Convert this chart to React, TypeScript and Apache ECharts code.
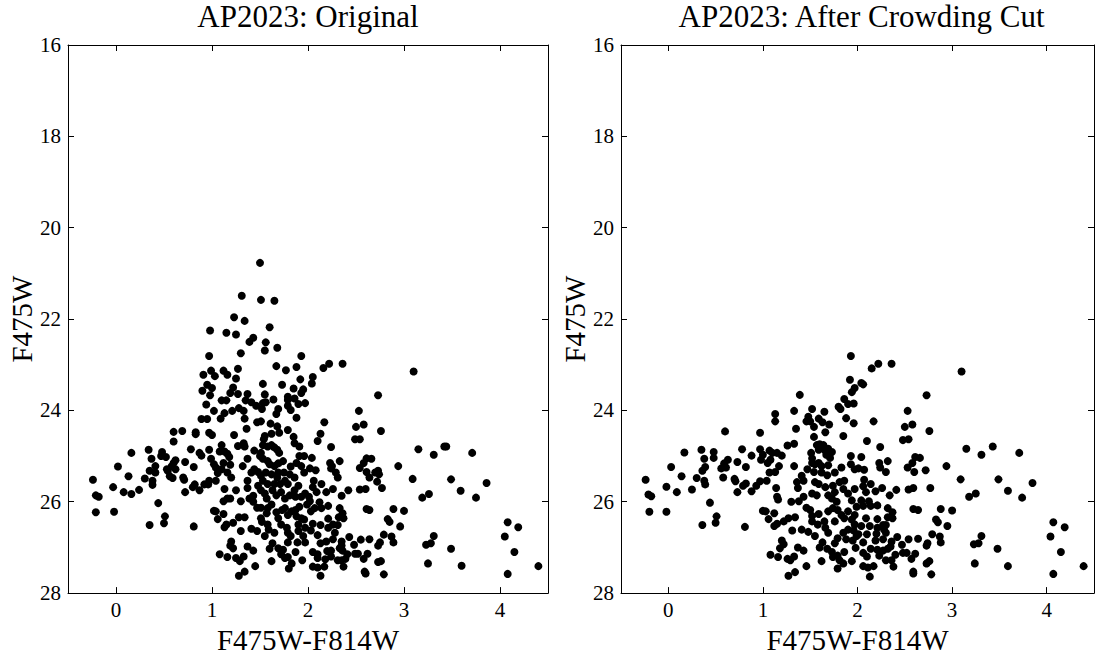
import React, { useEffect, useRef } from "react";
import * as echarts from "echarts";

// Stars (original catalogue): [F475W-F814W, F475W]
const originalStars: number[][] = [
  [1.50,20.77],[1.31,21.49],[1.51,21.58],[1.65,21.60],[1.23,21.96],[1.34,22.04],[0.98,22.25],[1.15,22.30],[1.25,22.34],[1.60,22.18],
  [1.43,22.41],[1.39,22.50],[1.56,22.51],[1.55,22.69],[1.68,22.63],[1.30,22.75],[0.97,22.81],[1.93,22.81],[1.67,23.03],[1.77,23.12],
  [1.88,23.05],[1.92,23.32],[0.91,23.22],[0.99,23.13],[1.03,23.25],[1.12,23.13],[1.16,23.22],[1.27,23.09],[1.25,23.30],[0.95,23.44],
  [1.00,23.51],[0.90,23.57],[0.98,23.67],[1.22,23.50],[1.19,23.62],[1.27,23.64],[1.37,23.64],[1.53,23.42],[1.55,23.65],[1.73,23.44],
  [1.85,23.52],[1.95,23.54],[1.93,23.62],[1.64,23.76],[1.79,23.70],[1.79,23.77],[1.86,23.74],[1.97,23.84],[1.90,23.86],[1.79,23.90],
  [1.82,23.99],[0.94,23.87],[1.10,23.78],[1.15,23.78],[1.35,23.78],[1.41,23.82],[1.46,23.90],[1.53,23.84],[1.56,23.82],[1.52,23.97],
  [1.02,24.01],[1.13,24.06],[1.21,24.01],[1.28,23.95],[1.33,24.01],[1.69,23.97],[1.67,24.08],[1.88,24.16],[0.89,24.19],[0.95,24.19],
  [1.09,24.18],[1.34,24.18],
  [2.16,23.07],[2.22,22.98],[2.36,22.98],[3.10,23.15],[2.05,23.27],[2.04,23.41],[2.73,23.67],[2.53,24.01],
  [-0.24,25.52],[-0.21,25.86],[-0.18,25.89],[-0.21,26.23],[-0.02,26.22],[-0.03,25.68],[0.02,25.23],[0.13,25.44],[0.08,25.79],[0.16,25.83],
  [0.24,25.74],[0.16,24.93],[0.34,24.86],[0.30,25.49],[0.35,25.32],[0.41,25.36],[0.37,25.06],[0.41,25.22],[0.38,25.54],[0.38,25.63],
  [0.44,26.03],[0.35,26.51],[0.48,24.91],[0.52,25.02],[0.47,25.00],[0.53,25.29],[0.54,25.32],[0.56,25.44],[0.59,25.48],[0.58,25.22],
  [0.60,25.15],[0.62,25.09],[0.62,25.29],[0.60,24.68],[0.60,24.47],[0.69,24.45],[0.51,26.32],[0.50,26.47],[0.72,25.13],[0.70,25.47],
  [0.71,25.52],[0.72,25.79],[0.78,24.85],[0.81,25.24],[0.83,24.48],[0.83,24.52],[0.87,24.93],[0.89,24.99],[0.82,25.62],[0.80,25.68],
  [0.87,25.75],[0.81,26.54],[0.92,25.62],[0.96,25.62],[0.97,25.54],[1.04,25.54],[0.97,24.49],[1.00,24.54],[0.97,24.86],[0.99,25.06],
  [1.02,25.18],[1.04,25.25],[1.08,24.90],[1.10,24.76],[1.13,24.90],[1.16,24.95],[1.18,25.02],[1.12,25.15],[1.10,25.29],[1.06,25.37],
  [1.16,25.36],[1.19,25.19],[1.20,25.47],[1.23,24.54],[1.27,24.78],[1.33,24.72],[1.36,24.40],[1.34,24.79],[1.32,25.22],[1.37,25.06],
  [1.44,24.88],[1.13,25.72],[1.16,25.93],[1.12,25.99],[1.19,25.93],[1.25,25.75],[1.30,25.99],[1.37,25.70],[1.37,25.54],[1.41,25.36],
  [1.39,25.93],[1.43,25.87],[1.02,26.20],[1.04,26.21],[1.06,26.38],[1.12,26.27],[1.15,26.50],[1.13,26.56],[1.22,26.46],[1.28,26.34],
  [1.34,26.34],[1.30,26.64],[1.41,26.59],[1.47,26.13],[1.43,26.00],[1.20,26.87],[1.19,26.96],[1.22,27.02],[1.08,27.15],[1.16,27.21],
  [1.25,27.23],[1.29,27.30],[1.33,27.20],[1.37,26.98],[1.43,27.07],[1.45,27.41],[1.34,27.53],[1.28,27.62],[1.47,26.64],[1.51,26.36],
  [1.52,26.44],[1.55,26.75],[1.58,26.50],[1.59,26.61],[1.63,26.91],[1.60,27.03],[1.62,27.30],[1.69,27.02],[1.74,27.05],[1.72,27.15],
  [1.76,27.23],[1.79,27.21],[1.80,27.46],[1.83,27.35],[1.87,27.10],[1.94,27.28],[1.79,26.89],[1.82,26.75],[1.79,26.68],[1.89,26.89],
  [1.90,26.64],[1.95,26.75],[1.97,26.89],
  [1.47,24.26],[1.51,24.24],[1.61,24.29],[1.68,24.35],[1.70,24.49],[1.62,24.51],[1.55,24.56],[1.54,24.63],[1.53,24.76],[1.58,24.79],
  [1.62,24.76],[1.65,24.81],[1.68,24.86],[1.70,24.93],[1.79,24.43],[1.85,24.58],[1.86,24.72],[1.91,24.79],[1.91,25.00],[1.96,25.00],
  [1.51,24.93],[1.50,25.00],[1.53,25.06],[1.58,25.11],[1.60,25.18],[1.65,25.22],[1.69,25.16],[1.74,25.11],[1.93,25.22],[1.96,25.36],
  [1.88,25.15],[1.44,25.29],[1.48,25.35],[1.51,25.43],[1.56,25.36],[1.62,25.40],[1.69,25.36],[1.75,25.36],[1.81,25.40],[1.86,25.47],
  [1.76,25.54],[1.79,25.61],[1.71,25.61],[1.65,25.61],[1.58,25.61],[1.53,25.54],[1.48,25.65],[1.51,25.75],[1.55,25.82],[1.57,25.93],
  [1.63,25.75],[1.67,25.86],[1.72,25.79],[1.76,25.93],[1.81,25.86],[1.86,25.75],[1.90,25.65],[1.93,25.89],[1.97,25.82],[1.51,26.13],
  [1.58,26.14],[1.62,26.06],[1.67,26.23],[1.69,26.36],[1.76,26.14],[1.79,26.29],[1.83,26.21],[1.88,26.32],[1.91,26.11],[1.93,26.36],
  [1.96,26.39],[1.90,26.50],[1.97,26.57],[1.72,26.50],[1.78,26.57],[1.65,26.68],
  [1.82,25.23],[1.68,25.47],[1.87,25.89],[2.01,25.89],[1.99,26.06],[1.87,26.18],[1.73,26.18],[1.57,26.25],[2.18,27.26],[2.39,27.25],
  [2.17,24.26],[2.50,24.36],[2.58,24.31],[2.76,24.45],[2.13,24.51],[2.10,24.67],[2.49,24.63],[2.54,24.63],[2.24,24.80],[3.15,24.85],
  [3.42,24.79],[3.44,24.79],[3.31,24.97],[3.71,24.93],[2.04,25.04],[2.33,25.11],[2.23,25.15],[2.25,25.22],[2.24,25.27],[2.61,25.05],
  [2.66,25.06],[2.58,25.15],[2.54,25.26],[2.02,25.27],[2.08,25.31],[2.29,25.36],[2.31,25.47],[2.61,25.35],[2.70,25.36],[2.73,25.32],
  [2.74,25.40],[2.64,25.47],[2.72,25.56],[2.94,25.22],[3.09,25.50],[3.49,25.51],[3.86,25.59],[2.06,25.54],[2.14,25.61],[2.05,25.68],
  [2.26,25.72],[2.19,25.79],[2.09,25.79],[2.42,25.75],[2.54,25.73],[2.60,25.72],[2.77,25.70],[2.35,25.87],[3.19,25.91],[3.26,25.83],
  [3.59,25.76],[3.75,25.91],[2.02,25.99],[2.12,26.01],[2.07,26.14],[2.14,26.14],[2.21,26.09],[2.33,26.14],[2.03,26.21],[2.36,26.25],
  [2.61,26.16],[2.64,26.18],[2.89,26.16],[3.00,26.20],[2.21,26.37],[2.32,26.34],[2.37,26.36],[2.83,26.38],[2.85,26.44],[2.05,26.48],
  [2.13,26.51],[2.26,26.50],[2.31,26.51],[2.96,26.54],[4.08,26.45],[4.19,26.56],[2.03,26.63],[2.21,26.57],[2.28,26.68],[2.10,26.73],
  [2.26,26.82],[2.43,26.77],[2.55,26.83],[2.64,26.82],[2.79,26.72],[2.87,26.76],[2.13,26.91],[2.19,26.87],[2.35,26.87],[2.48,26.94],
  [2.73,26.96],[2.75,26.89],[2.89,26.89],[3.23,26.94],[3.28,26.91],[3.31,26.75],[4.05,26.76],[2.05,27.10],[2.10,27.15],[2.20,27.08],
  [2.24,27.07],[2.33,27.02],[2.35,26.96],[2.36,27.07],[2.41,27.15],[2.49,27.14],[2.52,27.14],[2.62,27.14],[2.10,27.23],[2.24,27.20],
  [2.31,27.28],[2.35,27.28],[2.58,27.25],[2.73,27.32],[2.76,27.30],[3.49,27.03],[4.15,27.10],[2.05,27.42],[2.10,27.44],[2.17,27.42],
  [2.37,27.42],[2.59,27.53],[2.60,27.57],[2.79,27.59],[3.25,27.35],[3.60,27.40],[4.40,27.41],[2.13,27.62],[4.08,27.58],
];

// Stars (after the crowding cut)
const keptStars: number[][] = [
  [1.93,22.81],[1.92,23.33],[1.97,23.51],[1.94,23.60],[1.86,23.75],[1.96,23.85],[1.90,23.86],[1.80,23.92],[1.82,23.97],[1.88,24.17],
  [1.96,24.28],[1.85,24.56],[1.39,23.66],[1.33,24.01],[1.13,24.08],[1.13,24.24],[1.48,24.14],[1.52,23.97],[1.65,24.03],[1.46,24.24],
  [1.50,24.24],[1.59,24.18],[1.63,24.26],[1.70,24.31],[1.54,24.36],[1.35,24.40],[1.66,24.48],[1.54,24.58],[0.60,24.46],[0.97,24.49],
  [1.26,24.77],[1.33,24.73],[1.57,24.76],[1.60,24.74],[1.64,24.76],[1.59,24.86],[1.66,24.88],[1.69,24.84],[1.73,24.91],[1.67,24.97],
  [1.71,25.04],[1.51,24.93],[1.52,25.05],[0.17,24.92],[0.35,24.86],[0.38,25.06],[0.48,24.91],[0.48,25.04],[0.03,25.24],[0.59,25.16],
  [0.63,25.08],[0.56,25.27],[0.61,25.25],[0.73,25.13],[0.82,25.24],[0.78,24.85],[0.88,24.99],[0.97,24.85],[1.00,24.97],[0.98,25.08],
  [1.07,24.88],[1.10,24.93],[1.15,24.93],[1.20,24.99],[1.05,25.15],[1.08,25.08],[1.17,25.22],[1.33,25.22],[0.39,25.24],[0.36,25.32],
  [1.47,25.29],[1.52,25.15],[1.55,25.18],[1.59,25.15],[1.62,25.22],[1.69,25.20],[1.83,25.25],[1.93,25.00],[1.93,25.18],[1.97,25.29],
  [1.76,25.36],
  [2.15,23.08],[2.22,22.98],[2.36,22.98],[3.10,23.15],[2.04,23.40],[2.06,23.43],[2.73,23.67],[2.53,24.01],[2.17,24.24],[2.50,24.36],
  [2.58,24.31],[2.76,24.45],[2.10,24.67],[2.24,24.80],[2.48,24.65],[2.54,24.63],[3.15,24.84],[3.31,24.97],[3.43,24.79],[3.71,24.93],
  [2.04,25.02],[2.23,25.15],[2.32,25.11],[2.61,25.02],[2.66,25.04],[2.58,25.15],[2.94,25.22],[2.01,25.27],[2.07,25.30],[2.24,25.25],
  [2.30,25.35],[2.53,25.25],[2.60,25.35],[2.72,25.31],
  [-0.24,25.52],[-0.21,25.84],[-0.18,25.88],[-0.20,26.22],[-0.02,26.22],[-0.02,25.67],[0.14,25.44],[0.09,25.79],[0.25,25.73],[0.30,25.48],
  [0.38,25.54],[0.39,25.62],[0.44,26.02],[0.36,26.51],[0.51,26.32],[0.50,26.46],[0.58,25.47],[0.70,25.50],[0.71,25.55],[0.73,25.79],
  [0.79,25.65],[0.82,25.60],[0.88,25.77],[0.93,25.65],[0.97,25.55],[1.04,25.54],[0.81,26.55],[1.14,25.70],[1.15,25.89],[1.16,25.95],
  [1.07,25.36],[1.13,25.35],[1.00,26.20],[1.03,26.21],[1.12,26.25],[1.06,26.38],[1.12,26.53],[1.15,26.48],[1.22,26.43],[1.27,26.36],
  [1.34,26.34],[1.30,26.00],[1.38,25.99],[1.31,26.63],[1.20,26.85],[1.22,26.93],[1.18,27.02],[1.08,27.16],[1.16,27.21],[1.26,27.25],
  [1.29,27.28],[1.33,27.20],[1.37,27.00],[1.43,27.07],[1.46,27.41],[1.34,27.54],[1.27,27.62],[1.41,26.61],[1.48,26.66],[1.43,25.89],
  [1.46,26.13],[1.50,26.18],[1.52,26.31],[1.52,26.43],[1.55,26.75],[1.58,26.50],[1.60,27.00],[1.63,26.89],[1.62,27.30],[1.68,27.03],
  [1.73,27.10],[1.74,27.21],[1.79,27.18],[1.81,27.28],[1.85,27.35],[1.79,27.46],[1.86,27.10],[1.94,27.30],[1.98,27.01],[1.76,26.91],
  [1.79,26.80],[1.85,26.68],[1.90,26.61],[1.88,26.82],[1.95,26.85],[1.99,26.75],[1.66,26.57],[1.69,26.68],[1.65,26.43],[1.36,25.57],
  [1.37,25.70],[1.41,25.43],[1.43,25.54],[1.54,25.35],[1.55,25.57],[1.59,25.61],[1.52,25.82],[1.57,25.86],[1.62,25.36],[1.68,25.42],
  [1.66,25.68],[1.69,25.86],[1.74,25.65],[1.76,25.79],[1.73,25.93],[1.78,26.00],[1.81,25.57],[1.86,25.54],[1.85,25.72],[1.90,25.82],
  [1.94,25.97],[1.97,25.72],[1.69,26.21],[1.74,26.14],[1.79,26.18],[1.83,26.29],[1.86,26.36],[1.90,26.21],[1.94,26.39],[1.97,26.29],
  [1.76,26.43],[1.59,26.27],
  [3.09,25.51],[3.49,25.51],[3.85,25.59],[2.07,25.52],[2.14,25.61],[2.06,25.66],[2.26,25.70],[2.19,25.77],[2.09,25.79],[2.41,25.74],
  [2.54,25.73],[2.59,25.70],[2.77,25.70],[2.34,25.86],[2.04,25.97],[2.12,25.99],[3.18,25.89],[3.25,25.82],[3.59,25.76],[3.74,25.91],
  [2.06,26.09],[1.99,26.11],[2.14,26.09],[2.21,26.08],[2.32,26.14],[2.37,26.23],[2.59,26.16],[2.64,26.18],[2.88,26.16],[3.00,26.19],
  [2.09,26.36],[2.21,26.38],[2.32,26.34],[2.37,26.36],[2.83,26.39],[2.85,26.45],[4.07,26.45],[4.19,26.56],[1.97,26.50],[2.04,26.53],
  [2.13,26.53],[2.21,26.57],[2.27,26.51],[2.30,26.51],[2.95,26.53],[1.96,26.63],[2.28,26.61],[2.01,26.71],[2.10,26.71],[2.20,26.70],
  [2.30,26.68],[2.42,26.77],[2.54,26.82],[2.64,26.81],[2.79,26.71],[2.87,26.76],[3.31,26.75],[3.23,26.93],[3.28,26.91],[4.04,26.76],
  [2.06,26.89],[2.19,26.85],[2.27,26.82],[2.36,26.87],[2.47,26.94],[2.73,26.96],[2.74,26.91],[2.88,26.89],[2.14,27.03],[2.21,27.05],
  [2.27,27.07],[2.32,27.03],[2.35,26.98],[3.48,27.03],[4.15,27.10],[2.06,27.12],[2.10,27.20],[2.23,27.18],[2.40,27.16],[2.48,27.12],
  [2.52,27.12],[2.61,27.14],[2.30,27.28],[2.36,27.28],[2.57,27.25],[2.73,27.35],[2.76,27.30],[3.24,27.35],[3.59,27.41],[4.39,27.41],
  [2.06,27.41],[2.11,27.44],[2.17,27.41],[2.38,27.42],[2.59,27.53],[2.59,27.57],[2.78,27.59],[2.13,27.64],[4.07,27.58],
];

const panelTitles = ["AP2023: Original", "AP2023: After Crowding Cut"];
const colourRange = [-0.5, 4.5];
const magRange = [16, 28];
const magStep = 2;
const xName = "F475W-F814W";
const yName = "F475W";

const FONT = "'Liberation Serif', 'DejaVu Serif', serif";

export default function App() {
  const ref = useRef<HTMLDivElement>(null);
  useEffect(() => {
    document.body.style.margin = "0";
    const chart = echarts.init(ref.current!, null, { renderer: "svg" });
    const grids = [
      { left: 68, top: 45, width: 480, height: 563 },
      { left: 621, top: 45, width: 481, height: 563 },
    ];
    const lineStyle = { color: "#000", width: 1 };
    const tick = { show: true, inside: true, length: 6, lineStyle };
    const intLabel = (v: number) =>
      Math.abs(v - Math.round(v)) < 1e-6 ? String(Math.round(v)) : "";
    const xAxes: any[] = [];
    const yAxes: any[] = [];
    grids.forEach((_, gi) => {
      const baseX = {
        type: "value",
        gridIndex: gi,
        min: colourRange[0],
        max: colourRange[1],
        splitNumber: 5,
        splitLine: { show: false },
        axisLine: { show: true, onZero: false, lineStyle },
        axisTick: tick,
      };
      xAxes.push({
        ...baseX,
        position: "bottom",
        name: xName,
        nameLocation: "middle",
        nameGap: 19,
        nameTextStyle: { fontFamily: FONT, fontSize: 29, color: "#000" },
        axisLabel: {
          show: true,
          margin: 6,
          fontFamily: FONT,
          fontSize: 21,
          color: "#000",
          formatter: intLabel,
        },
      });
      xAxes.push({ ...baseX, position: "top", axisLabel: { show: false } });
      const baseY = {
        type: "value",
        gridIndex: gi,
        inverse: true,
        min: magRange[0],
        max: magRange[1],
        interval: magStep,
        splitLine: { show: false },
        axisLine: { show: true, onZero: false, lineStyle },
        axisTick: tick,
      };
      yAxes.push({
        ...baseY,
        position: "left",
        name: yName,
        nameLocation: "middle",
        nameGap: 31,
        nameTextStyle: { fontFamily: FONT, fontSize: 29, color: "#000" },
        axisLabel: { show: true, margin: 7, fontFamily: FONT, fontSize: 21, color: "#000" },
      });
      yAxes.push({ ...baseY, position: "right", axisLabel: { show: false } });
    });
    chart.setOption({
      animation: false,
      backgroundColor: "#fff",
      title: panelTitles.map((t, i) => ({
        text: t,
        left: grids[i].left + grids[i].width / 2,
        top: 1,
        padding: 0,
        textAlign: "center",
        textStyle: { fontFamily: FONT, fontSize: 31, fontWeight: "normal", color: "#000" },
      })),
      grid: grids,
      xAxis: xAxes,
      yAxis: yAxes,
      series: [originalStars, keptStars].map((d, i) => ({
        type: "scatter",
        xAxisIndex: i * 2,
        yAxisIndex: i * 2,
        data: d,
        symbol: "circle",
        symbolSize: 8,
        itemStyle: { color: "#000", opacity: 1 },
        clip: true,
      })),
    });
    return () => chart.dispose();
  }, []);
  return <div ref={ref} style={{ width: 1097, height: 659 }} />;
}
